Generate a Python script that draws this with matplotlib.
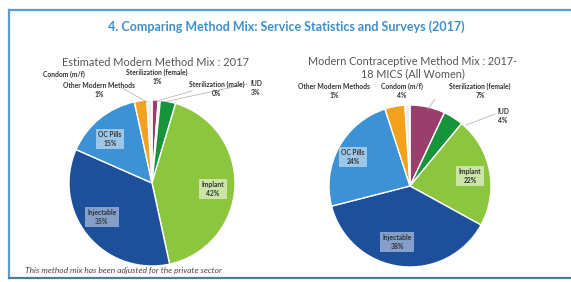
import matplotlib
matplotlib.use("Agg")
import matplotlib.pyplot as plt
from matplotlib.lines import Line2D

# ---------------- data ----------------
left_methods = ["Sterilization (female)", "Sterilization (male)", "IUD", "Implant",
                "Injectable", "OC Pills", "Condom (m/f)", "Other Modern Methods"]
left_values = [1.2, 0.4, 3, 42, 35, 15, 2.4, 1]
left_labels = ["1%", "0%", "3%", "42%", "35%", "15%", "", "1%"]

right_methods = ["Sterilization (female)", "IUD", "Implant", "Injectable",
                 "OC Pills", "Condom (m/f)", "Other Modern Methods"]
right_values = [7, 4, 22, 38, 24, 4, 1]
right_labels = ["7%", "4%", "22%", "38%", "24%", "4%", "1%"]

title = "4. Comparing Method Mix: Service Statistics and Surveys (2017)"
left_title = "Estimated Modern Method Mix : 2017"
right_title = "Modern Contraceptive Method Mix : 2017-\n18 MICS (All Women)"
footnote = "This method mix has been adjusted for the private sector"

colors = {
    "Sterilization (female)": "#9a3f6c",
    "Sterilization (male)": "#dfe7f1",
    "IUD": "#17933c",
    "Implant": "#8cc63f",
    "Injectable": "#1d4f9b",
    "OC Pills": "#3c92d4",
    "Condom (m/f)": "#f4a11d",
    "Other Modern Methods": "#eeeeee",
}

W, H = 571, 282
fig = plt.figure(figsize=(W / 100, H / 100), dpi=100)
fig.patch.set_facecolor("white")
FONT = "Lato"


def fx(px):
    return px / W


def fy(py):
    return 1 - py / H


# frame
fig.add_artist(Line2D([fx(9), fx(571)], [fy(10), fy(10)], color="#5b9bd5", lw=1.6))
fig.add_artist(Line2D([fx(9), fx(9)], [fy(10), fy(278)], color="#5b9bd5", lw=1.6))
fig.add_artist(Line2D([fx(9), fx(571)], [fy(278), fy(278)], color="#4a7f9c", lw=1.6))

fig.text(fx(286), fy(27), title, ha="center", va="center", fontsize=9,
         fontweight="bold", color="#3f8fcc", family=FONT)
fig.text(fx(155), fy(62), left_title, ha="center", va="center", fontsize=7.9,
         color="#555555", family=FONT)
fig.text(fx(413), fy(68), right_title, ha="center", va="center", fontsize=7.8,
         color="#555555", family=FONT, linespacing=1.15)
fig.text(fx(25), fy(270), footnote, ha="left", va="center", fontsize=6,
         style="italic", color="#444444", family=FONT)


def make_pie(cx, cy, r, methods, values):
    ax = fig.add_axes([fx(cx - r), fy(cy + r), (2 * r) / W, (2 * r) / H])
    ax.pie(values, colors=[colors[m] for m in methods], startangle=90,
           counterclock=False, radius=1.0,
           wedgeprops=dict(edgecolor="white", linewidth=1.0))
    ax.set_xlim(-1, 1)
    ax.set_ylim(-1, 1)
    ax.set_aspect("auto")
    ax.axis("off")
    return ax


make_pie(152, 183, 83, left_methods, left_values)
make_pie(410, 186, 81, right_methods, right_values)

lab_kw = dict(ha="center", va="center", fontsize=4.9, fontweight="bold",
              color="#333333", family=FONT, linespacing=1.25)


def label(px, py, text, box=None, size=None):
    kw = dict(lab_kw)
    if size:
        kw["fontsize"] = size
    if box:
        kw["bbox"] = dict(boxstyle="square,pad=0.35", fc=box, ec="none", alpha=0.9)
    fig.text(fx(px), fy(py), text, **kw)


def leader(x0, y0, x1, y1):
    fig.add_artist(Line2D([fx(x0), fx(x1)], [fy(y0), fy(y1)], color="#aaaaaa", lw=0.5))


# left pie labels
label(64, 74, "Condom (m/f)")
label(99, 90, left_methods[7] + "\n" + left_labels[7])
label(157, 77, left_methods[0] + "\n" + left_labels[0])
label(217, 89, left_methods[1] + "\n" + left_labels[1])
label(256, 88, left_methods[2] + "\n" + left_labels[2])
label(110, 139, left_methods[5] + "\n" + left_labels[5], box="#a9cdeb")
label(213, 189, left_methods[3] + "\n" + left_labels[3], box="#d3e9b2")
label(102, 217, left_methods[4] + "\n" + left_labels[4], box="#8fa9d0")
leader(122, 88, 147, 102)
leader(192, 91, 157, 101)
leader(247, 84, 164, 102)

# right pie labels
label(334, 91, right_methods[6] + "\n" + right_labels[6])
label(402, 91, right_methods[5] + "\n" + right_labels[5])
label(480, 91, right_methods[0] + "\n" + right_labels[0])
label(503, 116, right_methods[1] + "\n" + right_labels[1])
label(353, 157, right_methods[4] + "\n" + right_labels[4], box="#a9cdeb")
label(470, 176, right_methods[2] + "\n" + right_labels[2], box="#d3e9b2")
label(397, 242, right_methods[3] + "\n" + right_labels[3], box="#8fa9d0")
leader(435, 99, 428, 109)
leader(495, 114, 466, 125)

fig.savefig("out.png", dpi=100, facecolor="white")
